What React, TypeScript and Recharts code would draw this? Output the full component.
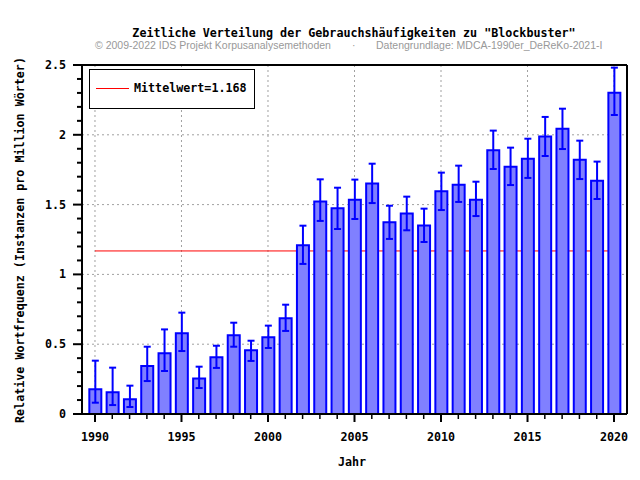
import {
  ComposedChart,
  Bar,
  Line,
  XAxis,
  YAxis,
  CartesianGrid,
  ErrorBar,
  ReferenceLine,
} from "recharts";

const years = [
  1990, 1991, 1992, 1993, 1994, 1995, 1996, 1997, 1998, 1999, 2000, 2001, 2002, 2003, 2004, 2005,
  2006, 2007, 2008, 2009, 2010, 2011, 2012, 2013, 2014, 2015, 2016, 2017, 2018, 2019, 2020,
];
const frequency = [
  0.177, 0.155, 0.105, 0.344, 0.435, 0.578, 0.255, 0.406, 0.564, 0.456, 0.549, 0.685, 1.208, 1.523,
  1.473, 1.535, 1.652, 1.373, 1.437, 1.351, 1.595, 1.643, 1.535, 1.889, 1.772, 1.829, 1.987, 2.044,
  1.822, 1.671, 2.302,
];
const lowerBound = [
  0.081, 0.064, 0.05, 0.236, 0.308, 0.451, 0.186, 0.33, 0.482, 0.38, 0.473, 0.595, 1.075, 1.383,
  1.325, 1.397, 1.511, 1.254, 1.316, 1.232, 1.461, 1.519, 1.418, 1.755, 1.64, 1.691, 1.848, 1.898,
  1.683, 1.54, 2.142,
];
const upperBound = [
  0.382, 0.332, 0.203, 0.482, 0.606, 0.726, 0.339, 0.489, 0.654, 0.525, 0.633, 0.783, 1.349, 1.681,
  1.621, 1.679, 1.793, 1.492, 1.557, 1.471, 1.729, 1.779, 1.664, 2.03, 1.908, 1.972, 2.128, 2.187,
  1.958, 1.808, 2.481,
];

const meanValue = 1.168;
const meanSpan = [1990, 2020];

const yTicks = [
  0, 0.1, 0.2, 0.3, 0.4, 0.5, 0.6, 0.7, 0.8, 0.9, 1, 1.1, 1.2, 1.3, 1.4, 1.5, 1.6, 1.7, 1.8, 1.9, 2,
  2.1, 2.2, 2.3, 2.4, 2.5,
];
const yGrid = [0.5, 1, 1.5, 2];
const xGrid = [1990, 1995, 2000, 2005, 2010, 2015, 2020];

const data = years.map((year, i) => ({
  year,
  value: frequency[i],
  err: [frequency[i] - lowerBound[i], upperBound[i] - frequency[i]],
}));
const meanLine = meanSpan.map((year) => ({ year, mean: meanValue }));

const MONO = "'DejaVu Sans Mono', monospace";
const SANS = "'Liberation Sans', Arial, sans-serif";
const FS = 11.7;

const XTick = (props: any) => {
  const { x, y, payload } = props;
  const major = payload.value % 5 === 0;
  return (
    <g>
      <line x1={x} x2={x} y1={y} y2={y + (major ? 8 : 5)} stroke="#000" strokeWidth={major ? 2 : 1.5} />
      {major && (
        <text x={x} y={y + 27} textAnchor="middle" fontFamily={MONO} fontWeight="bold" fontSize={FS} fill="#000">
          {payload.value}
        </text>
      )}
    </g>
  );
};

const YTick = (props: any) => {
  const { x, y, payload } = props;
  const major = Math.round(payload.value * 10) % 5 === 0;
  return (
    <g>
      <line x1={x} x2={x - (major ? 9 : 5)} y1={y} y2={y} stroke="#000" strokeWidth={2} />
      {major && (
        <text x={x - 16} y={y + 4} textAnchor="end" fontFamily={MONO} fontWeight="bold" fontSize={FS} fill="#000">
          {payload.value}
        </text>
      )}
    </g>
  );
};

export default function App() {
  return (
    <div style={{ position: "absolute", left: 0, top: 0, width: 640, height: 480, background: "#fff" }}>
      <ComposedChart width={640} height={480} data={data} margin={{ top: 65, right: 13, left: 0, bottom: 36 }}>
        <CartesianGrid
          horizontalValues={yGrid}
          verticalValues={xGrid}
          stroke="#a0a0a0"
          strokeDasharray="2 3"
        />
        <XAxis
          type="number"
          dataKey="year"
          domain={[1989.25, 2020.75]}
          ticks={years}
          interval={0}
          height={30}
          tickSize={0}
          tickMargin={0}
          tickLine={false}
          tick={<XTick />}
          axisLine={{ stroke: "#000", strokeWidth: 2 }}
        />
        <YAxis
          type="number"
          domain={[0, 2.5]}
          ticks={yTicks}
          interval={0}
          width={82}
          tickSize={0}
          tickMargin={0}
          tickLine={false}
          tick={<YTick />}
          axisLine={{ stroke: "#000", strokeWidth: 2 }}
          allowDataOverflow
        />
        {/* mean line sits under the bars */}
        <Line
          data={meanLine}
          dataKey="mean"
          stroke="#ff0000"
          strokeWidth={1}
          dot={false}
          activeDot={false}
          isAnimationActive={false}
          zIndex={200}
        />
        <Bar dataKey="value" fill="#8080ff" stroke="#0000ff" strokeWidth={2} barSize={12} isAnimationActive={false}>
          <ErrorBar dataKey="err" width={3.5} stroke="#0000ff" strokeWidth={2} direction="y" />
        </Bar>
        <ReferenceLine y={2.5} stroke="#000" strokeWidth={2} />
        <ReferenceLine x={2020.75} stroke="#000" strokeWidth={2} />
      </ComposedChart>

      <div
        style={{
          position: "absolute",
          left: 354,
          top: 26,
          transform: "translateX(-50%)",
          whiteSpace: "nowrap",
          fontFamily: MONO,
          fontWeight: "bold",
          fontSize: FS,
          lineHeight: "14px",
        }}
      >
        Zeitliche Verteilung der Gebrauchshäufigkeiten zu "Blockbuster"
      </div>
      <div
        style={{
          position: "absolute",
          left: 95,
          top: 39,
          whiteSpace: "nowrap",
          fontFamily: SANS,
          fontSize: 10.5,
          lineHeight: "13px",
          color: "#999",
        }}
      >
        © 2009-2022 IDS Projekt Korpusanalysemethoden
      </div>
      <div
        style={{
          position: "absolute",
          left: 352,
          top: 39,
          fontFamily: SANS,
          fontSize: 10.5,
          lineHeight: "13px",
          color: "#999",
        }}
      >
        ·
      </div>
      <div
        style={{
          position: "absolute",
          left: 376,
          top: 39,
          whiteSpace: "nowrap",
          fontFamily: SANS,
          fontSize: 10.5,
          lineHeight: "13px",
          color: "#999",
        }}
      >
        Datengrundlage: MDCA-1990er_DeReKo-2021-I
      </div>

      {/* legend */}
      <div
        style={{
          position: "absolute",
          left: 89,
          top: 69,
          width: 166,
          height: 40,
          boxSizing: "border-box",
          border: "1px solid #000",
          background: "#fff",
        }}
      >
        <div style={{ position: "absolute", left: 6, top: 18, width: 33, height: 1, background: "#ff0000" }} />
        <div
          style={{
            position: "absolute",
            left: 44,
            top: 11,
            whiteSpace: "nowrap",
            fontFamily: MONO,
            fontWeight: "bold",
            fontSize: FS,
            lineHeight: "14px",
          }}
        >
          Mittelwert=1.168
        </div>
      </div>

      <div
        style={{
          position: "absolute",
          left: 20,
          top: 240,
          transform: "translate(-50%, -50%) rotate(-90deg)",
          whiteSpace: "nowrap",
          fontFamily: MONO,
          fontWeight: "bold",
          fontSize: FS,
          lineHeight: "14px",
        }}
      >
        Relative Wortfrequenz (Instanzen pro Million Wörter)
      </div>
      <div
        style={{
          position: "absolute",
          left: 352,
          top: 455,
          transform: "translateX(-50%)",
          fontFamily: MONO,
          fontWeight: "bold",
          fontSize: FS,
          lineHeight: "14px",
        }}
      >
        Jahr
      </div>
    </div>
  );
}
